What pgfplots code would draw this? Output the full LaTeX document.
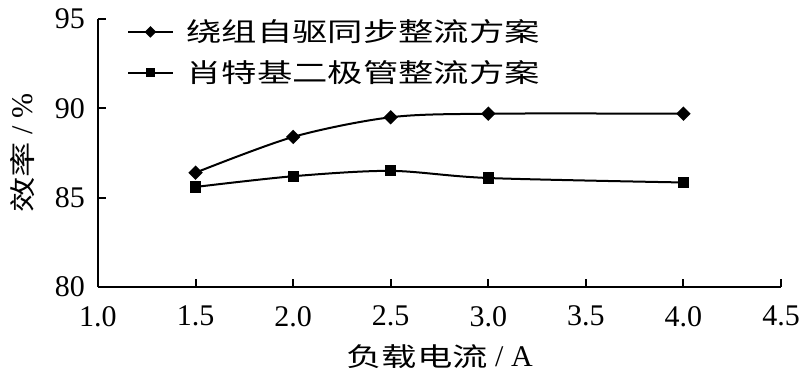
\documentclass[border=0pt]{standalone}
\usepackage{fontspec}
\setmainfont{Liberation Serif}
\newfontfamily\cjk[FakeStretch=1.36]{Noto Sans CJK SC}
\usepackage{pgfplots}
\pgfplotsset{compat=1.18}
\usetikzlibrary{calc}
\begin{document}
\begin{tikzpicture}
\begin{axis}[
  scale only axis, width=341.5pt, height=134pt,
  xmin=1, xmax=4.5, ymin=80, ymax=95,
  axis lines*=left,
  xtick={1,1.5,2,2.5,3,3.5,4,4.5},
  ytick={80,85,90,95},
  tick align=inside, major tick length=4pt,
  axis line style={line width=1pt, black},
  tick style={line width=1pt, black},
  /pgf/number format/assume math mode=true,
  tick label style={font=\fontsize{15}{15}\selectfont},
  xticklabel style={yshift=-6pt, /pgf/number format/.cd, fixed, fixed zerofill, precision=1},
  yticklabel style={xshift=-3pt},
  label style={font=\fontsize{15}{15}\selectfont},
  xlabel={{\cjk\fontsize{13}{13}\selectfont 负载电流} / A},
  ylabel={{\cjk\fontsize{13}{13}\selectfont 效率} / \%},
  xlabel style={at={(axis description cs:0.5,0)}, yshift=-35pt, anchor=center},
  ylabel style={at={(axis description cs:-0.111,0.5)}, anchor=center},
  legend style={at={(axis description cs:0,1)}, anchor=north west, xshift=11.5pt, yshift=4pt,
    draw=none, fill=none, font=\fontsize{13}{13}\selectfont\cjk, row sep=4pt},
  legend cell align=left,
  legend image code/.code={\draw[mark repeat=2,mark phase=2,#1,every mark/.append style={scale=0.75}] plot coordinates {(0pt,0pt)(11pt,0pt)(22pt,0pt)}; \path (26.5pt,0pt);},
]
\addplot[black, line width=1pt, smooth, mark=square*, mark size=2.05pt, mark options={solid, rotate=45}]
  coordinates {(1.5,86.4) (2.0,88.4) (2.5,89.5) (3.0,89.7) (4.0,89.7)};
\addlegendentry{绕组自驱同步整流方案}
\addplot[black, line width=1pt, smooth, mark=square*, mark size=2.3pt, mark options={solid}]
  coordinates {(1.5,85.6) (2.0,86.2) (2.5,86.5) (3.0,86.1) (4.0,85.85)};
\addlegendentry{肖特基二极管整流方案}
\end{axis}
\pgfresetboundingbox
\path ($(current axis.south west)+(-49pt,-49pt)$) rectangle ($(current axis.north east)+(9.5pt,9.5pt)$);
\end{tikzpicture}
\end{document}
